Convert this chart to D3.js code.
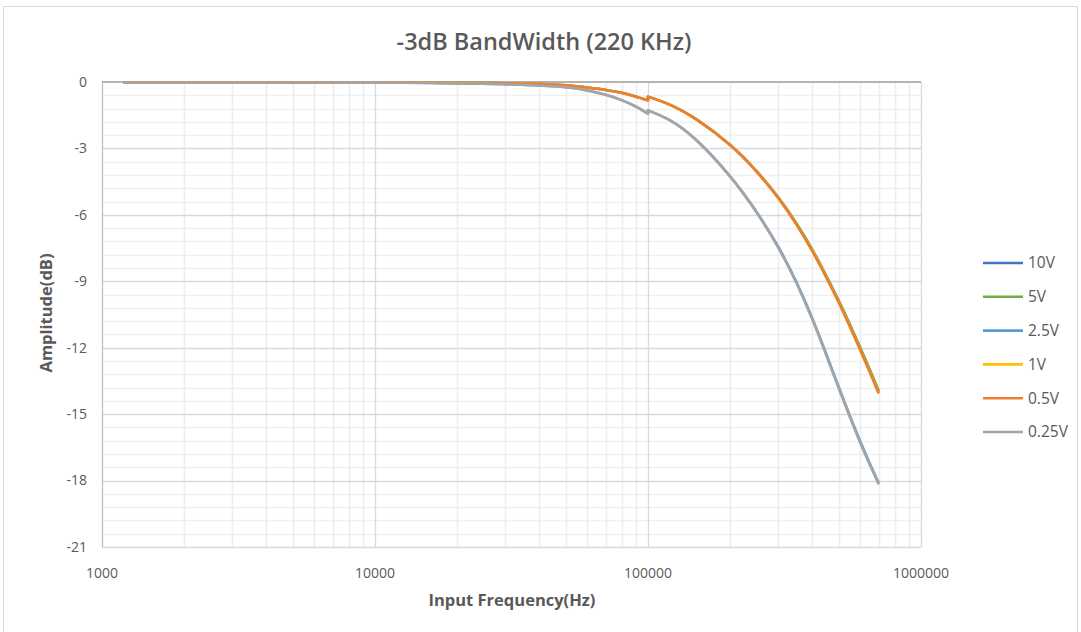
<!DOCTYPE html>
<html><head><meta charset="utf-8">
<script src="https://cdn.jsdelivr.net/npm/d3@7"></script>
<style>
html,body{margin:0;padding:0;background:#fff;}
text{font-family:"Open Sans","Noto Sans",sans-serif;fill:#595959;}
</style></head>
<body><svg id="c" width="1081" height="632"></svg>
<script>
const title = "-3dB BandWidth (220 KHz)";
const xTitle = "Input Frequency(Hz)";
const yTitle = "Amplitude(dB)";
const freqs = [1200,2000,5000,10000,20000,30000,40000,50000,60000,70000,80000,90000,100000,100000,120000,150000,200000,250000,300000,350000,400000,450000,500000,550000,600000,650000,700000];
const v10  = [-0.02,-0.02,-0.02,-0.02,-0.04,-0.06,-0.09,-0.15,-0.25,-0.36,-0.49,-0.65,-0.83,-0.66,-1.02,-1.68,-2.85,-4.04,-5.22,-6.41,-7.60,-8.78,-9.91,-11.00,-12.05,-13.04,-13.98];
const v5   = [-0.02,-0.02,-0.02,-0.02,-0.04,-0.06,-0.09,-0.15,-0.25,-0.36,-0.49,-0.65,-0.83,-0.66,-1.02,-1.68,-2.84,-4.03,-5.21,-6.39,-7.57,-8.75,-9.88,-10.97,-12.01,-13.00,-13.94];
const v2_5 = [-0.02,-0.02,-0.02,-0.03,-0.05,-0.10,-0.16,-0.24,-0.38,-0.58,-0.82,-1.10,-1.43,-1.28,-1.72,-2.61,-4.26,-5.87,-7.44,-9.05,-10.68,-12.29,-13.78,-15.11,-16.25,-17.24,-18.11];
const v1   = [-0.02,-0.02,-0.02,-0.02,-0.04,-0.06,-0.09,-0.15,-0.25,-0.36,-0.49,-0.65,-0.83,-0.66,-1.02,-1.68,-2.85,-4.05,-5.24,-6.44,-7.63,-8.82,-9.96,-11.06,-12.11,-13.11,-14.06];
const v0_5 = [-0.02,-0.02,-0.02,-0.02,-0.04,-0.06,-0.09,-0.15,-0.25,-0.36,-0.49,-0.65,-0.83,-0.66,-1.02,-1.68,-2.85,-4.05,-5.24,-6.44,-7.64,-8.83,-9.97,-11.07,-12.12,-13.12,-14.07];
const v0_25= [-0.02,-0.02,-0.02,-0.03,-0.05,-0.10,-0.16,-0.24,-0.38,-0.58,-0.82,-1.10,-1.43,-1.28,-1.72,-2.62,-4.28,-5.90,-7.48,-9.09,-10.73,-12.35,-13.84,-15.17,-16.31,-17.30,-18.17];
const seriesNames = ["10V","5V","2.5V","1V","0.5V","0.25V"];
const seriesColors = ["#4472C4","#70AD47","#5B9BD5","#FFC000","#ED7D31","#A5A5A5"];
const seriesValues = [v10,v5,v2_5,v1,v0_5,v0_25];
const xTicks = [1000,10000,100000,1000000];
const yTicks = [0,-3,-6,-9,-12,-15,-18,-21];

const svg = d3.select("#c");
const L=102, R=921, T=82, B=547;
const x = d3.scaleLog().domain([1000,1000000]).range([L,R]);
const y = d3.scaleLinear().domain([-21,0]).range([B,T]);

// border
svg.append("rect").attr("x",3.5).attr("y",6.5).attr("width",1074).attr("height",640)
  .attr("fill","#fff").attr("stroke","#d9d9d9");

// minor gridlines
const yMinor = d3.range(0,-21.01,-0.6).filter(v=>Math.abs(v/3-Math.round(v/3))>1e-6);
svg.append("g").selectAll("line").data(yMinor).join("line")
  .attr("x1",L).attr("x2",R).attr("y1",d=>Math.round(y(d))+0.5).attr("y2",d=>Math.round(y(d))+0.5)
  .attr("stroke","#f0f0f0").attr("stroke-width",1.5);
const xMinor = [];
[1000,10000,100000].forEach(d=>{for(let k=2;k<=9;k++) xMinor.push(d*k);});
svg.append("g").selectAll("line").data(xMinor).join("line")
  .attr("y1",T).attr("y2",B).attr("x1",d=>Math.round(x(d))+0.5).attr("x2",d=>Math.round(x(d))+0.5)
  .attr("stroke","#ededed").attr("stroke-width",1.6);
// major gridlines
svg.append("g").selectAll("line").data(yTicks.slice(1)).join("line")
  .attr("x1",L).attr("x2",R).attr("y1",d=>Math.round(y(d))+0.5).attr("y2",d=>Math.round(y(d))+0.5)
  .attr("stroke","#d9d9d9").attr("stroke-width",1.3);
svg.append("g").selectAll("line").data(xTicks.slice(1)).join("line")
  .attr("y1",T).attr("y2",B).attr("x1",d=>Math.round(x(d))+0.5).attr("x2",d=>Math.round(x(d))+0.5)
  .attr("stroke","#d9d9d9").attr("stroke-width",1.3);
// axis lines
svg.append("line").attr("x1",L+0.5).attr("x2",L+0.5).attr("y1",T).attr("y2",B).attr("stroke","#bfbfbf").attr("stroke-width",1.3);
svg.append("line").attr("x1",L).attr("x2",R).attr("y1",y(0)).attr("y2",y(0)).attr("stroke","#b3b3b3").attr("stroke-width",2);

// tick labels
svg.append("g").selectAll("text").data(yTicks).join("text")
  .attr("x",87).attr("y",d=>y(d)).attr("dy","0.35em").attr("text-anchor","end")
  .attr("font-size",14).text(d=>d);
svg.append("g").selectAll("text").data(xTicks).join("text")
  .attr("x",d=>x(d)).attr("y",573).attr("dy","0.35em").attr("text-anchor","middle")
  .attr("font-size",14).text(d=>d);

// lines (split at the duplicated 100 kHz point so the step is vertical)
const idx = freqs.indexOf(100000);
const lineData = seriesValues.map((vals,i)=>({name:seriesNames[i],color:seriesColors[i],vals}));
svg.append("g").selectAll("path").data(lineData).join("path")
  .attr("d",d=>{
    const pts = d.vals.map((v,i)=>[x(freqs[i]),y(v)]);
    const gen = d3.line().curve(d3.curveNatural);
    const la = gen(pts.slice(0,idx+1));
    const lb = gen(pts.slice(idx+1));
    return la + "L" + lb.slice(1);
  })
  .attr("fill","none").attr("stroke",d=>d.color).attr("stroke-width",2.6).attr("stroke-linejoin","round");

// titles
svg.append("text").attr("x",544).attr("y",50).attr("text-anchor","middle")
  .attr("font-size",23.5).attr("font-weight",600).text(title);
svg.append("text").attr("x",512).attr("y",606).attr("text-anchor","middle")
  .attr("font-size",16.5).attr("font-weight",700).text(xTitle);
svg.append("text").attr("transform","translate(52,313) rotate(-90)").attr("text-anchor","middle")
  .attr("font-size",16.5).attr("font-weight",700).text(yTitle);

// legend
const lg = svg.append("g").selectAll("g").data(lineData).join("g")
  .attr("transform",(d,i)=>`translate(983,${263+i*33.8})`);
lg.append("line").attr("x1",0).attr("x2",40).attr("stroke",d=>d.color).attr("stroke-width",2.6);
lg.append("text").attr("x",45).attr("dy","0.35em").attr("font-size",15.5).text(d=>d.name);
</script></body></html>
